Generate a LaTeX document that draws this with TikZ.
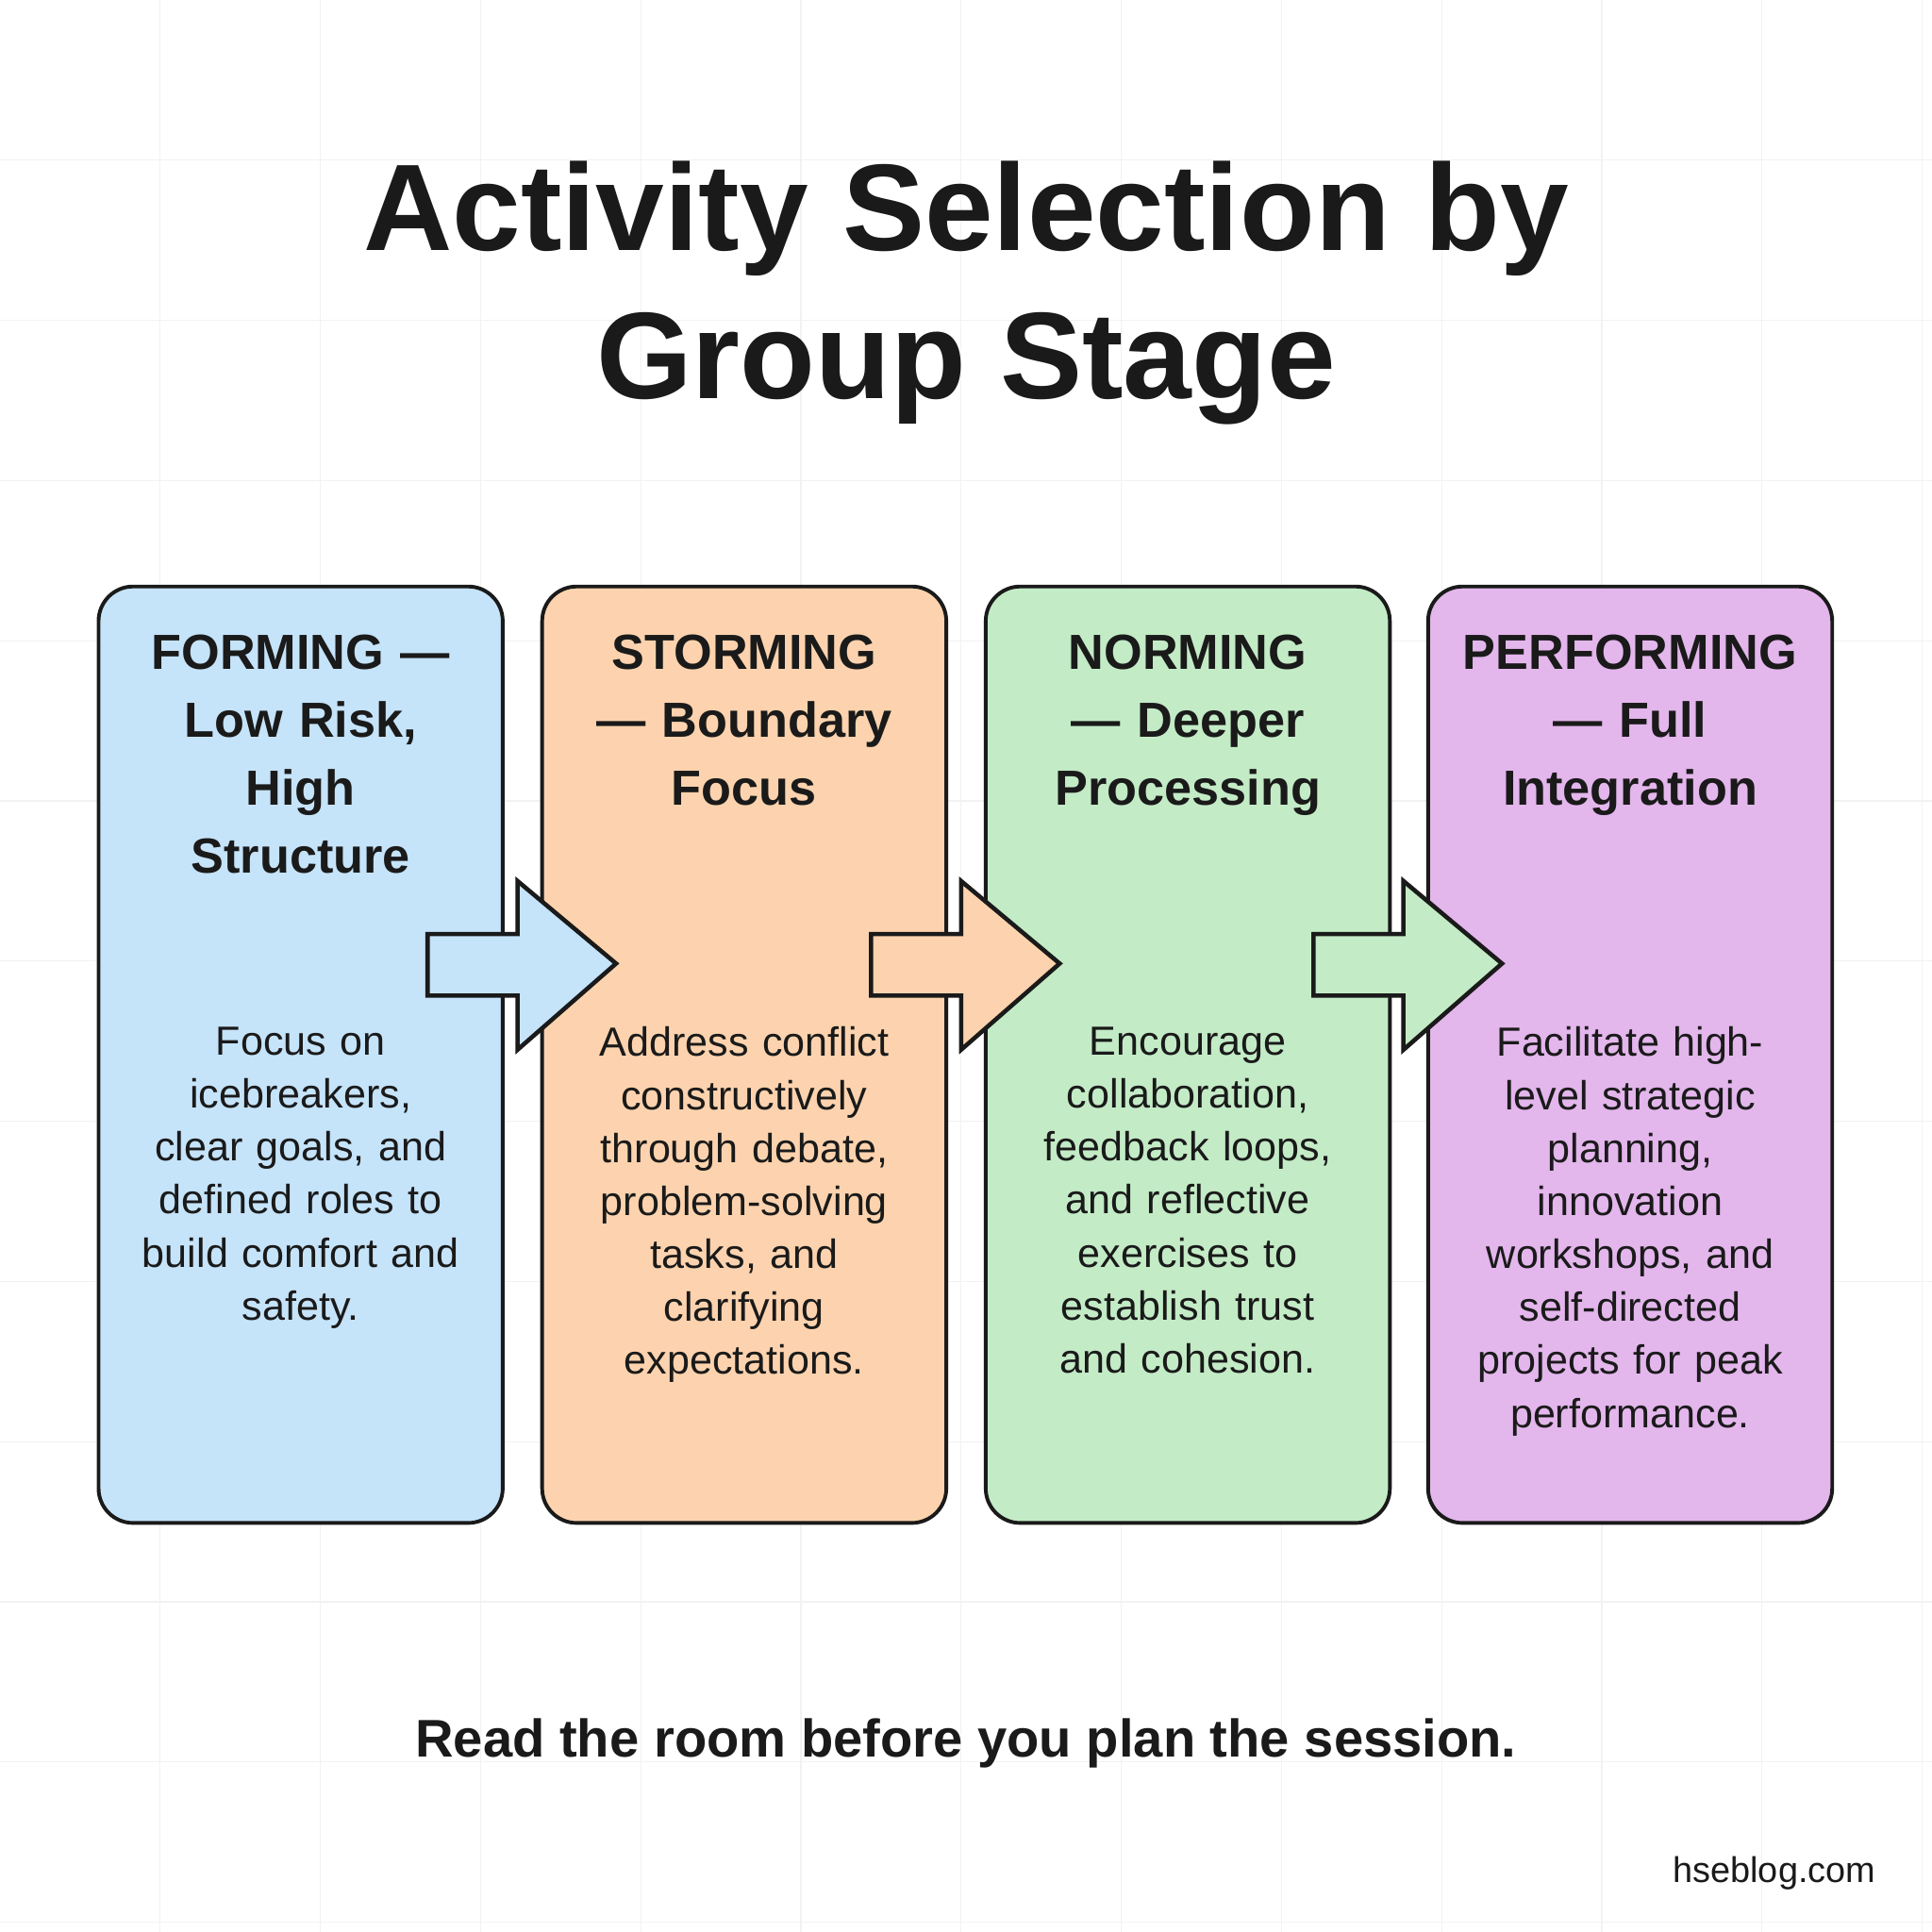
\documentclass[tikz,border=0pt]{standalone}
\usepackage{fontspec}
\setmainfont{Liberation Sans}
\definecolor{cb}{HTML}{C5E3F9}
\definecolor{co}{HTML}{FCD3AE}
\definecolor{cg}{HTML}{C3EBC6}
\definecolor{cp}{HTML}{E3B6EC}
\definecolor{ink}{HTML}{1A1A1A}
\begin{document}
\begin{tikzpicture}[x=1pt,y=-1pt,
 box/.style={draw=ink,line width=3pt,rounded corners=28pt},
 head/.style={align=center,text width=310pt,font=\fontsize{40}{55}\selectfont\bfseries,text=ink,anchor=north},
 body/.style={align=center,text width=310pt,font=\fontsize{33}{43}\selectfont,text=ink,anchor=north},
 barrow/.style={draw=ink,line width=3.5pt,line join=miter}]
\useasboundingbox (0,0) rectangle (1568,1568);
\fill[white] (0,0) rectangle (1568,1568);
\foreach \g in {130,260,...,1560}{\draw[black!5,line width=1pt] (\g,0)--(\g,1568); \draw[black!5,line width=1pt] (0,\g)--(1568,\g);}
\node[font=\fontsize{100}{120}\selectfont\bfseries,align=center,text=ink] (title) at (784,238) {Activity Selection by\\Group Stage};
\foreach \x/\c/\n in {80/cb/b1,440/co/b2,800/cg/b3,1159/cp/b4}{
 \draw[box,fill=\c] (\x,476) rectangle ++(328,760);
 \coordinate (\n) at (\x+164,476);}
\foreach \dx/\c in {0/cb,360/co,719/cg}{
 \draw[barrow,fill=\c] (347+\dx,758)--(420+\dx,758)--(420+\dx,715)--(500+\dx,782)--(420+\dx,852)--(420+\dx,808)--(347+\dx,808)--cycle;}
\node[head] (h1) at (244,512) {FORMING —\\Low Risk,\\High\\Structure};
\node[head] (h2) at (604,512) {STORMING\\— Boundary\\Focus};
\node[head] (h3) at (964,512) {NORMING\\— Deeper\\Processing};
\node[head] (h4) at (1323,512) {PERFORMING\\— Full\\Integration};
\node[body] (t1) at (244,830) {Focus on\\icebreakers,\\clear goals, and\\defined roles to\\build comfort and\\safety.};
\node[body] (t2) at (604,830) {Address conflict\\constructively\\through debate,\\problem-solving\\tasks, and\\clarifying\\expectations.};
\node[body] (t3) at (964,830) {Encourage\\collaboration,\\feedback loops,\\and reflective\\exercises to\\establish trust\\and cohesion.};
\node[body] (t4) at (1323,830) {Facilitate high-\\level strategic\\planning,\\innovation\\workshops, and\\self-directed\\projects for peak\\performance.};
\node[font=\fontsize{43}{50}\selectfont\bfseries,text=ink] (foot) at (784,1415) {Read the room before you plan the session.};
\node[font=\fontsize{29}{34}\selectfont,text=ink] (web) at (1440,1520) {hseblog.com};
\end{tikzpicture}
\end{document}
